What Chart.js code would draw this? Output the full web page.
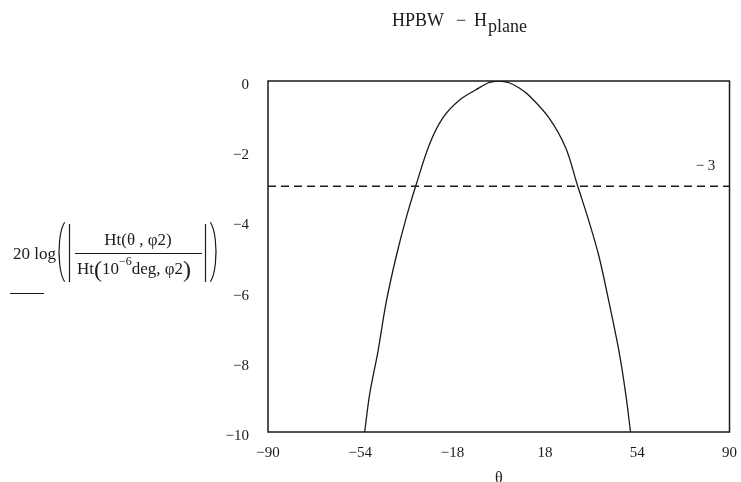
<!DOCTYPE html>
<html>
<head>
<meta charset="utf-8">
<script src="https://cdn.jsdelivr.net/npm/chart.js@4"></script>
<style>
  html, body { margin: 0; padding: 0; background: #fff; }
  #wrap { width: 741px; height: 482px; position: relative; }
</style>
</head>
<body>
<div id="wrap"><canvas id="hpbw"></canvas></div>
<script>
// theta (deg) vs normalized pattern (dB)
const thetaDeg = [-52.3, -50.3, -47.1, -43.9, -40.0, -36.1, -32.2, -27.0, -21.8, -15.4, -8.9, -4, 0, 4, 8.0, 11.9, 19.6, 26.1, 30.6, 35.2, 39.1, 43.0, 46.9, 49.5, 51.4];
const gainDb = [-10, -8.9, -7.7, -6.3, -5.0, -3.9, -2.95, -1.8, -1.05, -0.55, -0.25, -0.05, 0, -0.05, -0.2, -0.42, -1.05, -1.9, -2.95, -4.0, -5.0, -6.3, -7.7, -8.9, -10];

// -3 dB reference line
const refTheta = [-90, 90];
const refDb = [-3, -3];
const refLabel = '\u2212 3';

const xTicks = [-90, -54, -18, 18, 54, 90];
const yTicks = [0, -2, -4, -6, -8, -10];

const serif = '"Liberation Serif", "DejaVu Serif", serif';
const ink = '#1a1a1a';

function minus(v) {
    return String(v).replace('-', '\u2212');
}

// frame, title, -3 label and the y-axis expression
const decorPlugin = {
    id: 'decor',
    afterDraw(chart) {
        const ctx = chart.ctx;
        const a = chart.chartArea;
        const xs = chart.scales.x;
        const ys = chart.scales.y;
        ctx.save();

        // plot frame
        ctx.strokeStyle = ink;
        ctx.lineWidth = 1.5;
        ctx.strokeRect(a.left, a.top, a.right - a.left, a.bottom - a.top);

        ctx.fillStyle = ink;
        ctx.textBaseline = 'alphabetic';
        ctx.textAlign = 'left';

        // title: HPBW - H_plane
        ctx.font = '18px ' + serif;
        ctx.fillText('HPBW', 392, 26);
        ctx.fillText('\u2212', 456, 26);
        ctx.fillText('H', 474, 26);
        ctx.fillText('plane', 488, 32);

        // -3 label
        ctx.font = '15px ' + serif;
        ctx.textAlign = 'center';
        ctx.fillText(refLabel, xs.getPixelForValue(90) - 24, ys.getPixelForValue(-3) - 16);

        // y-axis expression
        ctx.font = '17px ' + serif;
        ctx.textAlign = 'left';
        ctx.fillText('20 log', 13, 259);
        ctx.textAlign = 'center';
        ctx.fillText('Ht(\u03b8 , \u03c62)', 138, 245);
        // denominator
        ctx.textAlign = 'left';
        let dx = 77;
        ctx.fillText('Ht', dx, 274);
        dx += ctx.measureText('Ht').width;
        ctx.font = '24px ' + serif;
        ctx.fillText('(', dx, 277);
        dx += ctx.measureText('(').width;
        ctx.font = '17px ' + serif;
        ctx.fillText('10', dx, 274);
        dx += ctx.measureText('10').width;
        ctx.font = '12px ' + serif;
        ctx.fillText('\u22126', dx, 265);
        dx += ctx.measureText('\u22126').width;
        ctx.font = '17px ' + serif;
        ctx.fillText('deg, \u03c62', dx, 274);
        dx += ctx.measureText('deg, \u03c62').width;
        ctx.font = '24px ' + serif;
        ctx.fillText(')', dx, 277);

        // fraction bar, abs bars and big parens
        ctx.lineWidth = 1.2;
        ctx.beginPath();
        ctx.moveTo(75, 253.5); ctx.lineTo(202, 253.5);
        ctx.moveTo(69.5, 224); ctx.lineTo(69.5, 282);
        ctx.moveTo(205.5, 224); ctx.lineTo(205.5, 282);
        ctx.stroke();
        ctx.beginPath();
        ctx.ellipse(68, 252, 9, 32, 0, Math.PI * 0.62, Math.PI * 1.38);
        ctx.stroke();
        ctx.beginPath();
        ctx.ellipse(207, 252, 9, 32, 0, -Math.PI * 0.38, Math.PI * 0.38);
        ctx.stroke();

        // underline placeholder
        ctx.beginPath();
        ctx.moveTo(10, 293.5); ctx.lineTo(44, 293.5);
        ctx.stroke();

        ctx.restore();
    }
};

new Chart(document.getElementById('hpbw').getContext('2d'), {
    type: 'line',
    data: {
        datasets: [{
            data: thetaDeg.map((t, i) => ({ x: t, y: gainDb[i] })),
            borderColor: ink,
            borderWidth: 1.3,
            pointRadius: 0,
            tension: 0.35,
            fill: false
        }, {
            data: refTheta.map((t, i) => ({ x: t, y: refDb[i] })),
            borderColor: ink,
            borderWidth: 1.5,
            borderDash: [8, 5],
            pointRadius: 0,
            fill: false
        }]
    },
    options: {
        responsive: true,
        maintainAspectRatio: false,
        animation: false,
        layout: { padding: { top: 81, right: 0, left: 0, bottom: 0 } },
        plugins: {
            legend: { display: false },
            tooltip: { enabled: false },
            title: { display: false }
        },
        scales: {
            x: {
                type: 'linear',
                min: -90,
                max: 90,
                afterBuildTicks: s => { s.ticks = xTicks.map(v => ({ value: v })); },
                afterFit: s => { s.height = 50; },
                grid: { display: false },
                border: { display: false },
                ticks: {
                    color: ink,
                    font: { family: serif, size: 15 },
                    padding: 4,
                    maxRotation: 0,
                    autoSkip: false,
                    callback: v => minus(v)
                },
                title: {
                    display: true,
                    text: '\u03b8',
                    color: ink,
                    font: { family: serif, size: 16 },
                    padding: { top: 0, bottom: -6 }
                }
            },
            y: {
                type: 'linear',
                min: -10,
                max: 0,
                afterBuildTicks: s => { s.ticks = yTicks.map(v => ({ value: v })); },
                afterFit: s => { s.width = 268; },
                grid: { display: false },
                border: { display: false },
                ticks: {
                    color: ink,
                    font: { family: serif, size: 15 },
                    padding: 11,
                    labelOffset: 4,
                    autoSkip: false,
                    callback: v => minus(v)
                }
            }
        }
    },
    plugins: [decorPlugin]
});
</script>
</body>
</html>
